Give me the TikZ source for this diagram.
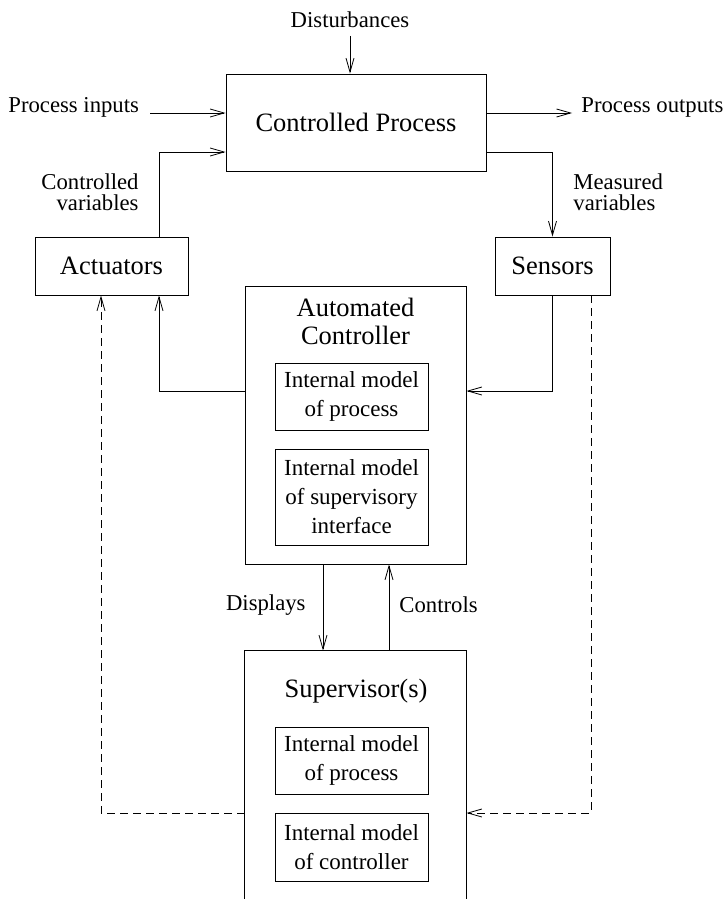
\documentclass[tikz,border=0pt]{standalone}
\usepackage{fontspec}
\setmainfont{Liberation Serif}
\usetikzlibrary{arrows.meta}
\begin{document}
\begin{tikzpicture}[x=1pt,y=-1pt,
  line width=0.9pt,
  arr/.style={-{Straight Barb[length=14pt,width=8pt,line width=0.8pt]}},
  dashline/.style={dash pattern=on 8pt off 5pt},
  box/.style={draw, inner sep=0pt, font=\fontsize{26.5}{28}\selectfont},
  title/.style={inner sep=0pt, align=center, font=\fontsize{26.5}{28}\selectfont},
  inbox/.style={draw, inner sep=0pt, minimum width=153pt, align=center, font=\fontsize{23}{29}\selectfont},
  lbl/.style={inner sep=0pt, font=\fontsize{22.7}{21}\selectfont},
]
\useasboundingbox (0,0) rectangle (726,899);

% main blocks
\node[box, minimum width=260pt, minimum height=97pt] (proc) at (356,122.5) {Controlled Process};
\node[box, minimum width=153pt, minimum height=58pt] (act) at (111.5,266) {Actuators};
\node[box, minimum width=115pt, minimum height=58pt] (sens) at (552.5,266) {Sensors};

% automated controller with its internal models
\node[box, minimum width=221pt, minimum height=278pt] (ctrl) at (355.5,425) {};
\node[title] (ctrlT) at (355.5,321) {Automated\\Controller};
\node[inbox, minimum height=67pt] (cm1) at (351.5,396.5) {Internal model\\of process};
\node[inbox, minimum height=96pt] (cm2) at (351.5,497) {Internal model\\of supervisory\\interface};

% supervisor block, open at the bottom
\node[inner sep=0pt, minimum width=221pt, minimum height=248pt] (sup) at (355.5,775) {};
\draw (sup.south west) -- (sup.north west) -- (sup.north east) -- (sup.south east);
\node[title] (supT) at (356,691) {Supervisor(s)};
\node[inbox, minimum height=67pt] (sm1) at (351.5,760.5) {Internal model\\of process};
\node[inbox, minimum height=68pt] (sm2) at (351.5,847) {Internal model\\of controller};

% labels
\node[lbl] (dist) at (350,20) {Disturbances};
\node[lbl, anchor=west] (pin) at (8,107) {Process inputs};
\node[lbl, anchor=west] (pout) at (581,107) {Process outputs};
\node[lbl, align=right, anchor=east] (cv) at (139,192.5) {Controlled\\variables};
\node[lbl, align=left, anchor=west] (mv) at (573,192.5) {Measured\\variables};
\node[lbl, anchor=east] (disp) at (306,605) {Displays};
\node[lbl, anchor=west] (ctl) at (399,605) {Controls};

% helper coordinates
\coordinate (distS) at (350,36);
\coordinate (pinS) at (150,113);
\coordinate (poutE) at (572,113);
\coordinate (cvx) at (159,152);
\coordinate (mvx) at (552.5,152);
\coordinate (fbY) at (0,391);
\coordinate (dx) at (323,0);
\coordinate (cx) at (389,0);
\coordinate (dl) at (101,813);
\coordinate (dr) at (591,813);

% connectors
\draw[arr] (distS) -- (distS |- proc.north);
\draw[arr] (pinS) -- (pinS -| proc.west);
\draw[arr] (proc.east |- poutE) -- (poutE);
\draw[arr] (act.north -| cvx) |- (proc.west |- cvx);
\draw[arr] (proc.east |- mvx) -| (sens.north);
\draw[arr] (ctrl.west |- fbY) -| (act.south -| cvx);
\draw[arr] (sens.south) |- (ctrl.east |- fbY);
\draw[arr] (ctrl.south -| dx) -- (sup.north -| dx);
\draw[arr] (sup.north -| cx) -- (ctrl.south -| cx);
\draw[dashline, arr] (sup.west |- dl) -| (act.south -| dl);
\draw[dashline, arr] (sens.south -| dr) |- (sup.east |- dr);
\end{tikzpicture}
\end{document}
